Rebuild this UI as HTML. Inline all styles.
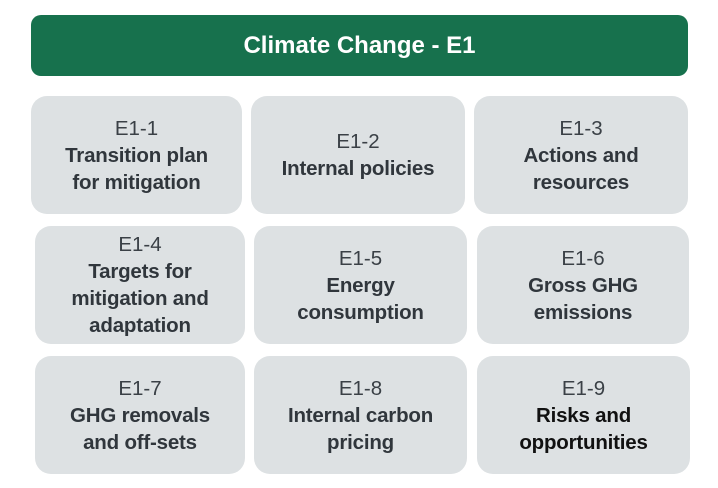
<!DOCTYPE html>
<html><head><style>
body{margin:0;width:718px;height:488px;background:#fff;position:relative;font-family:"Liberation Sans",sans-serif;overflow:hidden}
.h{position:absolute;left:31px;top:15px;width:657px;height:61px;background:#17714d;border-radius:10px;color:#fff;font-weight:bold;font-size:24px;display:flex;align-items:center;justify-content:center}
.b{position:absolute;background:#dde1e3;border-radius:16px;display:flex;flex-direction:column;align-items:center;justify-content:center;text-align:center;color:#30363c;font-size:20.5px;line-height:27px}
.b b{font-weight:bold;letter-spacing:-0.2px}
.c{font-weight:normal;color:#3a4046}
</style></head><body>
<div class="h">Climate Change - E1</div>
<div class="b" style="left:31px;top:96px;width:211px;height:118px"><span class="c">E1-1</span><b>Transition plan<br>for mitigation</b></div>
<div class="b" style="left:251px;top:96px;width:214px;height:118px"><span class="c">E1-2</span><b>Internal policies</b></div>
<div class="b" style="left:474px;top:96px;width:214px;height:118px"><span class="c">E1-3</span><b>Actions and<br>resources</b></div>
<div class="b" style="left:35px;top:226px;width:210px;height:118px"><span class="c">E1-4</span><b>Targets for<br>mitigation and<br>adaptation</b></div>
<div class="b" style="left:254px;top:226px;width:213px;height:118px"><span class="c">E1-5</span><b>Energy<br>consumption</b></div>
<div class="b" style="left:477px;top:226px;width:212px;height:118px"><span class="c">E1-6</span><b>Gross GHG<br>emissions</b></div>
<div class="b" style="left:35px;top:356px;width:210px;height:118px"><span class="c">E1-7</span><b>GHG removals<br>and off-sets</b></div>
<div class="b" style="left:254px;top:356px;width:213px;height:118px"><span class="c">E1-8</span><b>Internal carbon<br>pricing</b></div>
<div class="b" style="left:477px;top:356px;width:213px;height:118px"><span class="c">E1-9</span><b style="color:#111">Risks and<br>opportunities</b></div>
</body></html>
